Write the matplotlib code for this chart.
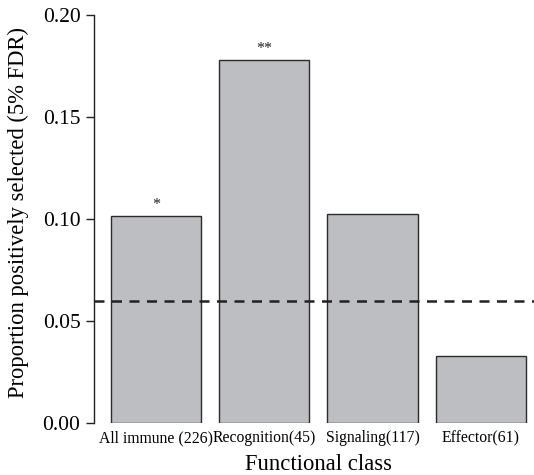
import matplotlib
matplotlib.use('Agg')
import matplotlib.pyplot as plt

# data
categories = ['All immune (226)', 'Recognition(45)', 'Signaling(117)', 'Effector(61)']
proportions = [0.1015, 0.178, 0.1025, 0.033]
stars = ['*', '**', '', '']
baseline = 0.06

plt.rcParams['font.family'] = ['Liberation Serif', 'DejaVu Serif']

fig = plt.figure(figsize=(5.34, 4.75), dpi=100)
ax = fig.add_axes([0.1766, 0.1095, 0.8395, 0.8589])

# R barplot style positions (width 1, space 0.2)
xpos = [0.7 + 1.2 * i for i in range(len(categories))]
ax.bar(xpos, proportions, width=1.0, color='#bdbec2', edgecolor='#2b2b2b', linewidth=1.0)

for x, v, s in zip(xpos, proportions, stars):
    if s:
        ax.text(x, v + 0.0015, s, ha='center', va='bottom', fontsize=11.5, color='#222222')

ax.axhline(baseline, color='#222222', linestyle=(0, (4, 3)), linewidth=1.8)

ax.set_xlim(0.016, 4.984)
ax.set_ylim(0, 0.2)
ax.set_yticks([0.0, 0.05, 0.10, 0.15, 0.20])
ax.set_yticklabels(['0.00', '0.05', '0.10', '0.15', '0.20'], fontsize=15.5)
ax.set_xticks(xpos)
ax.set_xticklabels(categories, fontsize=11.3)
ax.tick_params(axis='x', length=0, pad=5)
ax.tick_params(axis='y', length=6, width=1, pad=4, color='#222222')

for side in ['top', 'right', 'bottom']:
    ax.spines[side].set_visible(False)
ax.spines['left'].set_linewidth(1)
ax.spines['left'].set_color('#222222')

ax.set_xlabel('Functional class', fontsize=16.3)
ax.xaxis.set_label_coords(0.5, -0.076)
ax.set_ylabel('Proportion positively selected (5% FDR)', fontsize=16.3)
ax.yaxis.set_label_coords(-0.145, 0.517)

fig.savefig('out.png', dpi=100)
